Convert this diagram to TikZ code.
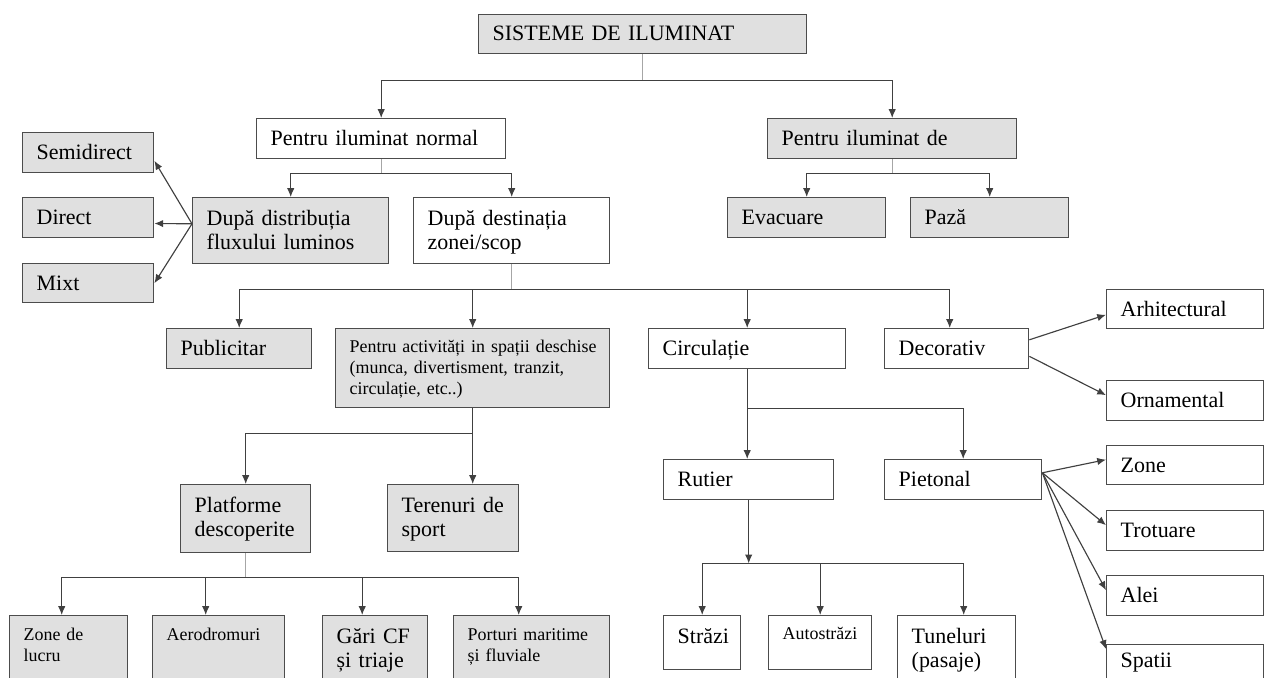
\documentclass[tikz,border=0pt]{standalone}
\usepackage{fontspec}
\setmainfont{Liberation Serif}
\usetikzlibrary{arrows.meta,calc}
\hyphenpenalty=10000

\tikzset{
  dims/.code args={#1/#2/#3}{%
    \pgfmathsetlengthmacro\bxw{#1*0.02cm}%
    \pgfmathsetlengthmacro\bxh{#3*0.02cm}%
    \pgfmathsetlengthmacro\bxd{(#2-#3)*0.02cm}%
    \tikzset{text width=\bxw, text height=\bxh, text depth=\bxd}},
  bx/.style={draw=black!70, line width=0.8pt, anchor=north west, inner sep=0pt, align=left,
    font=\fontsize{12.5}{13.8}\selectfont, execute at begin node={\leftskip=0.28cm\relax}},
  gbox/.style={bx, fill=black!12},
  wbox/.style={bx, fill=white},
  small/.style={font=\fontsize{10.2}{11.8}\selectfont},
  arr/.style={draw=black!75, line width=0.65pt, -{Latex[length=5pt,width=4.2pt]}},
  trunk/.style={draw=black!35, line width=0.65pt},
}

\begin{document}
\begin{tikzpicture}[x=0.02cm, y=-0.02cm]
  \useasboundingbox (0,0) rectangle (1269,677);
  \clip (0,0) rectangle (1269,677);

  \node[gbox, dims=328/39/26] (title) at (478,14) {SISTEME DE ILUMINAT};
  \node[wbox, dims=249/40/27] (normal) at (256,118) {Pentru iluminat normal};
  \node[gbox, dims=249/40/27] (special) at (767,118) {Pentru iluminat de};

  \node[gbox, dims=131/40/27] (semi) at (22,132) {Semidirect};
  \node[gbox, dims=131/40/27] (direct) at (22,197) {Direct};
  \node[gbox, dims=131/39/27] (mixt) at (22,263) {Mixt};
  \node[gbox, dims=196/66/28] (dist) at (192,197) {După distribuția\\fluxului luminos};
  \node[wbox, dims=196/66/28] (dest) at (413,197) {După destinația\\zonei/scop};
  \node[gbox, dims=158/40/27] (evac) at (727,197) {Evacuare};
  \node[gbox, dims=158/40/27] (paza) at (910,197) {Pază};

  \node[gbox, dims=145/40/27] (pub) at (166,328) {Publicitar};
  \node[gbox, small, dims=274/79/24] (activ) at (335,328) {Pentru activități in spații deschise\\(munca, divertisment, tranzit,\\circulație, etc..)};
  \node[wbox, dims=197/40/27] (circ) at (648,328) {Circulație};
  \node[wbox, dims=144/40/27] (decor) at (884,328) {Decorativ};
  \node[wbox, dims=157/39/27] (arhit) at (1106,289) {Arhitectural};
  \node[wbox, dims=157/40/27] (ornam) at (1106,380) {Ornamental};

  \node[gbox, dims=130/68/28] (plat) at (180,484) {Platforme\\descoperite};
  \node[gbox, dims=131/67/28] (teren) at (387,484) {Terenuri de\\sport};
  \node[wbox, dims=170/40/27] (rutier) at (663,459) {Rutier};
  \node[wbox, dims=157/40/27] (pieton) at (884,459) {Pietonal};
  \node[wbox, dims=157/39/27] (zone) at (1106,445) {Zone};
  \node[wbox, dims=157/40/27] (trot) at (1106,510) {Trotuare};
  \node[wbox, dims=157/40/27] (alei) at (1106,575) {Alei};
  \node[wbox, dims=157/60/23] (spatii) at (1106,644) {Spatii};

  \node[gbox, small, dims=118/75/25] (zonel) at (9,615) {Zone de\\lucru};
  \node[gbox, small, dims=132/75/25] (aero) at (152,615) {Aerodromuri};
  \node[gbox, dims=105/75/28] (gari) at (322,615) {Gări CF\\și triaje};
  \node[gbox, small, dims=156/75/25] (port) at (453,615) {Porturi maritime\\și fluviale};
  \node[wbox, dims=77/54/28] (strazi) at (663,615) {Străzi};
  \node[wbox, small, dims=103/54/24] (autostr) at (768,615) {Autostrăzi};
  \node[wbox, dims=118/75/28] (tun) at (897,615) {Tuneluri\\(pasaje)};

  \draw[trunk] (title.south) -- ++(0,26) coordinate (tsplit);
  \draw[arr] (tsplit) -| (normal.north);
  \draw[arr] (tsplit) -| (special.north);

  \draw[trunk] (normal.south) -- ++(0,14) coordinate (nsplit);
  \draw[arr] (nsplit) -| (dist.north);
  \draw[arr] (nsplit) -| (dest.north);
  \draw[trunk] (special.south) -- ++(0,14) coordinate (ssplit);
  \draw[arr] (ssplit) -| (evac.north);
  \draw[arr] (ssplit) -| (paza.north);

  \draw[arr] (dist.176) -- (semi.-7);
  \draw[arr] (dist.176) -- (direct.-5);
  \draw[arr] (dist.176) -- (mixt.east);

  \draw[trunk] (dest.south) -- ++(0,25) coordinate (dsplit);
  \draw[arr] (dsplit) -| (pub.north);
  \draw[arr] (dsplit) -| (activ.north);
  \draw[arr] (dsplit) -| (circ.north);
  \draw[arr] (dsplit) -| ([xshift=-0.14cm]decor.north);
  \draw[arr] (decor.7) -- (arhit.184);
  \draw[arr] (decor.-6) -- (ornam.176);

  \draw[arr] (activ.south) -- (activ.south |- teren.north);
  \draw[arr] (activ.south) -- ++(0,25) -| (plat.north);
  \draw[trunk] (plat.south) -- ++(0,24) coordinate (psplit);
  \draw[arr] (psplit) -| ([xshift=-0.14cm]zonel.north);
  \draw[arr] (psplit) -| ([xshift=-0.26cm]aero.north);
  \draw[arr] (psplit) -| ([xshift=-0.26cm]gari.north);
  \draw[arr] (psplit) -| ([xshift=-0.26cm]port.north);

  \draw[arr] (circ.south) -- (circ.south |- rutier.north);
  \draw[arr] (circ.south) -- ++(0,39) -| (pieton.north);
  \draw[arr] (rutier.south) -- ++(0,63) coordinate (rsplit);
  \draw[arr] (rsplit) -| (strazi.north);
  \draw[arr] (rsplit) -| (autostr.north);
  \draw[arr] (rsplit) -| ([xshift=0.14cm]tun.north);

  \draw[arr] (pieton.5) -- (zone.176);
  \draw[arr] (pieton.5) -- (trot.176);
  \draw[arr] (pieton.5) -- (alei.176);
  \draw[arr] (pieton.5) -- ([yshift=-0.1cm]spatii.north west);
\end{tikzpicture}
\end{document}
